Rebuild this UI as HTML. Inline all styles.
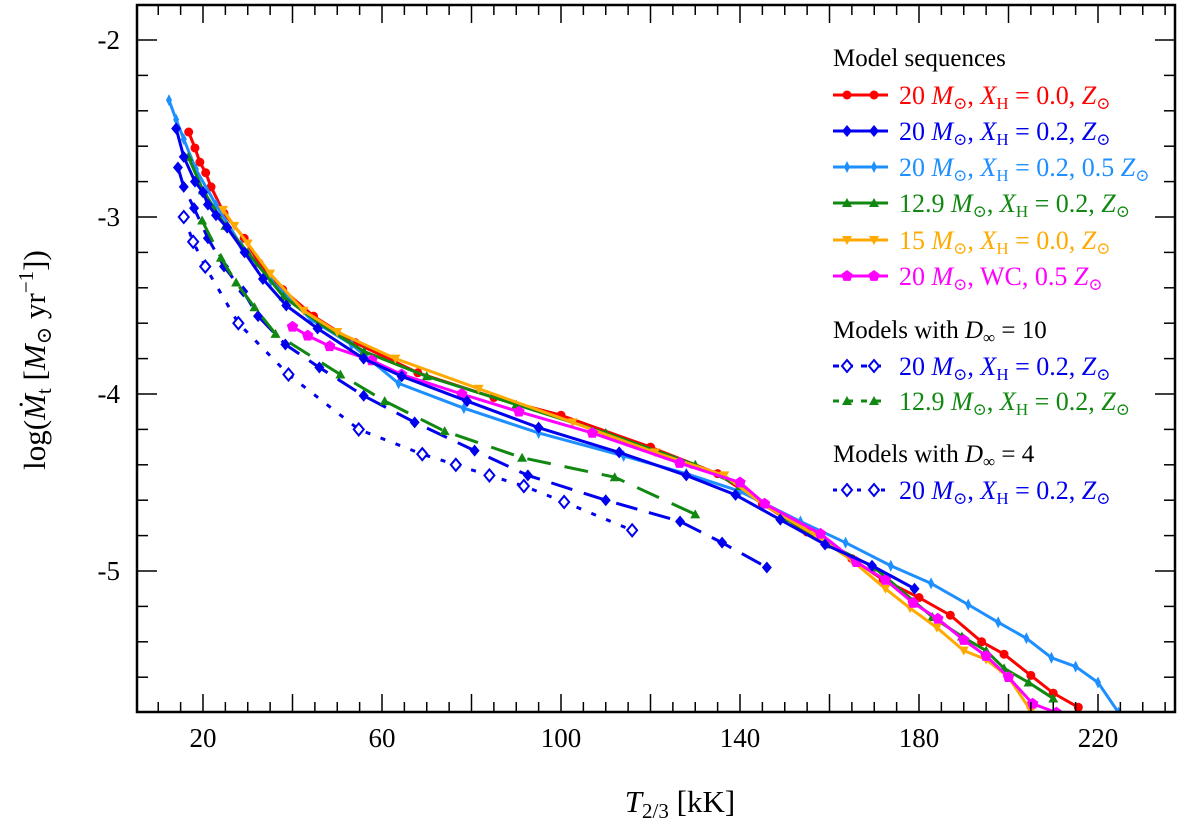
<!DOCTYPE html>
<html><head><meta charset="utf-8"><style>
html,body{margin:0;padding:0;background:#fff;}
svg{display:block;font-family:"Liberation Serif","DejaVu Serif",serif;}
</style></head><body>
<svg id="chart" width="1200" height="833" viewBox="0 0 1200 833" xmlns="http://www.w3.org/2000/svg">
<defs><clipPath id="clip"><rect x="137" y="5" width="1038" height="707"/></clipPath></defs>
<g id="series" clip-path="url(#clip)"></g>
<rect x="137" y="5" width="1038" height="707" fill="none" stroke="#000" stroke-width="2.5"/>
<g id="axes"></g>
<text x="680" y="812" font-size="31" text-anchor="middle"><tspan font-style="italic">T</tspan><tspan font-size="21" dy="6">2/3</tspan><tspan dy="-6"> [kK]</tspan></text>
<text transform="translate(45,360) rotate(-90)" font-size="31" text-anchor="middle">log(<tspan font-style="italic">Ṁ</tspan><tspan font-size="21" dy="6">t</tspan><tspan dy="-6"> [</tspan><tspan font-style="italic">M</tspan><tspan font-size="21" dy="6">⊙</tspan><tspan dy="-6"> yr</tspan><tspan font-size="21" dy="-12">−1</tspan><tspan dy="12">])</tspan></text>
<g id="legend"></g>
</svg>
<script>
const xTicks=[20,60,100,140,180,220];
const yTicks=[-2,-3,-4,-5];
const redT=[16.8,18.2,19.3,20.6,21.8,24.7,29.2,32.5,37.8,44.7,54,68,85,100,120,135,145,155,165,172,180,187,194,199,205,210,215.6];
const redM=[-2.52,-2.61,-2.69,-2.75,-2.83,-2.98,-3.12,-3.26,-3.41,-3.56,-3.71,-3.88,-4.02,-4.12,-4.3,-4.45,-4.62,-4.78,-4.93,-5.05,-5.15,-5.25,-5.40,-5.47,-5.59,-5.69,-5.77];
const blueT=[14,15.7,18.2,20,21.1,22.9,25.4,29.3,33.4,38.6,45.6,55.9,64.4,79,95,113,128,139,149,159,169.5,179];
const blueM=[-2.5,-2.66,-2.8,-2.86,-2.93,-2.99,-3.06,-3.2,-3.35,-3.5,-3.63,-3.8,-3.9,-4.04,-4.19,-4.33,-4.46,-4.57,-4.71,-4.85,-4.97,-5.1];
const lbT=[12.4,14,15.7,18.4,22.9,28.5,35.2,44.2,53.2,63.7,78.3,95,114,128,140,153.5,163.6,173.7,182.7,191,197.7,204,209.6,215,220,224.6];
const lbM=[-2.34,-2.45,-2.56,-2.73,-2.93,-3.16,-3.36,-3.58,-3.72,-3.94,-4.08,-4.22,-4.35,-4.45,-4.55,-4.72,-4.84,-4.97,-5.07,-5.19,-5.29,-5.38,-5.49,-5.54,-5.63,-5.8];
const grT=[16.7,20,25,30,38,46,56,70,90,110,130,140,150,160,170,183,189.6,195,199,204.5,210];
const grM=[-2.66,-2.85,-3.05,-3.2,-3.45,-3.6,-3.76,-3.9,-4.06,-4.22,-4.4,-4.52,-4.7,-4.85,-4.98,-5.26,-5.37,-5.45,-5.55,-5.63,-5.72];
const orT=[24.5,27,30,35,42.5,50,63,81.6,102.6,121,136.5,145,157,165,172.5,178,184,190,195,200,205];
const orM=[-2.96,-3.05,-3.15,-3.32,-3.53,-3.65,-3.8,-3.97,-4.16,-4.33,-4.46,-4.62,-4.8,-4.94,-5.1,-5.21,-5.32,-5.45,-5.5,-5.6,-5.79];
const mgT=[40,43.4,48.3,57.7,64.4,77.8,90.6,107,126.5,140,145.5,158,166,172.5,178.7,184.2,190,195,200,205.4,210.7];
const mgM=[-3.62,-3.67,-3.73,-3.81,-3.89,-4.0,-4.1,-4.22,-4.39,-4.5,-4.62,-4.79,-4.95,-5.05,-5.18,-5.27,-5.39,-5.48,-5.6,-5.75,-5.8];
const d10bT=[14.4,15.7,18,21.1,24.7,29,32.3,38.4,46,55.9,67.3,80.7,92.6,110,126.6,136,146];
const d10bM=[-2.72,-2.83,-2.95,-3.12,-3.28,-3.42,-3.56,-3.72,-3.85,-4.01,-4.16,-4.32,-4.46,-4.6,-4.72,-4.84,-4.98];
const d10gT=[19.8,24,27.4,31.5,36.2,50.7,60.6,74,91.3,112,130];
const d10gM=[-3.02,-3.23,-3.37,-3.51,-3.66,-3.89,-4.04,-4.21,-4.36,-4.47,-4.68];
const d4T=[15.7,17.8,20.5,27.9,39.1,54.8,69,76.5,84,91.7,100.7,115.9];
const d4M=[-3.0,-3.14,-3.28,-3.6,-3.89,-4.2,-4.34,-4.4,-4.46,-4.52,-4.61,-4.77];

const NS='http://www.w3.org/2000/svg';
const X=t=>203+(t-20)*4.475;
const Y=m=>40+(-2-m)*177;
function mk(tag,attrs,parent){const e=document.createElementNS(NS,tag);for(const k in attrs)e.setAttribute(k,attrs[k]);parent.appendChild(e);return e;}
const axes=document.getElementById('axes');
for(let t=10;t<=235;t+=5){const major=(t%20===0);const L=major?18:10;
 const a=mk('line',{x1:X(t),x2:X(t),y1:712,y2:712-L,stroke:'#000','stroke-width':1.5},axes);
 
 const b=mk('line',{x1:X(t),x2:X(t),y1:5,y2:5+L,stroke:'#000','stroke-width':1.5},axes);
 }
xTicks.forEach(t=>{const e=mk('text',{x:X(t),y:747,'font-size':27,'text-anchor':'middle'},axes);e.textContent=t;
 });
for(let i=0;i<=20;i++){const m=-1.8-i*0.2;const yy=Y(m);if(yy<5||yy>712)continue;const major=Math.abs(Math.round(m)-m)<1e-6;const L=major?20:11;
 const a=mk('line',{x1:137,x2:137+L,y1:yy,y2:yy,stroke:'#000','stroke-width':1.5},axes);
 
 const b=mk('line',{x1:1175,x2:1175-L,y1:yy,y2:yy,stroke:'#000','stroke-width':1.5},axes);
 }
yTicks.forEach(m=>{const e=mk('text',{x:120,y:Y(m)+9,'font-size':27,'text-anchor':'end'},axes);e.textContent=m;
 });

function marker(g,shape,x,y,c,open){let e;const f=open?'#fff':c;const sw=open?2:0;
 if(shape==='circle')e=mk('circle',{cx:x,cy:y,r:4.5,fill:f},g);
 else if(shape==='diamond')e=mk('polygon',{points:`${x},${y-6} ${x+5},${y} ${x},${y+6} ${x-5},${y}`,fill:f,stroke:c,'stroke-width':sw},g);
 else if(shape==='thin')e=mk('polygon',{points:`${x},${y-6} ${x+3},${y} ${x},${y+6} ${x-3},${y}`,fill:f},g);
 else if(shape==='tri')e=mk('polygon',{points:`${x},${y-5} ${x+5},${y+4} ${x-5},${y+4}`,fill:f},g);
 else if(shape==='tridown')e=mk('polygon',{points:`${x},${y+5} ${x+5},${y-4} ${x-5},${y-4}`,fill:f},g);
 else if(shape==='pent'){let p=[];for(let k=0;k<5;k++){const a=-Math.PI/2+k*2*Math.PI/5;p.push((x+6*Math.cos(a))+','+(y+6*Math.sin(a)));}e=mk('polygon',{points:p.join(' '),fill:f},g);}
 }
const SG=document.getElementById('series');
const series=[
 {n:'series-20m-xh0-zsun',T:redT,M:redM,c:'#ff0000',s:'circle',d:''},
 {n:'series-20m-xh02-05zsun',T:lbT,M:lbM,c:'#1e8fff',s:'thin',d:''},
 {n:'series-12-9m-xh02-zsun',T:grT,M:grM,c:'#118811',s:'tri',d:''},
 {n:'series-15m-xh0-zsun',T:orT,M:orM,c:'#ffaa00',s:'tridown',d:''},
 {n:'series-20m-wc-05zsun',T:mgT,M:mgM,c:'#ff00ff',s:'pent',d:''},
 {n:'series-20m-xh02-zsun',T:blueT,M:blueM,c:'#0000ee',s:'diamond',d:''},
 {n:'series-d10-20m',T:d10bT,M:d10bM,c:'#0000ee',s:'diamond',d:'22 12',open:false},
 {n:'series-d10-12-9m',T:d10gT,M:d10gM,c:'#118811',s:'tri',d:'24 14'},
 {n:'series-d4-20m',T:d4T,M:d4M,c:'#0000ee',s:'diamond',d:'5 11',open:true}
];
series.forEach(S=>{const g=mk('g',{},SG);
 const pts=S.T.map((t,i)=>X(t)+','+Y(S.M[i])).join(' ');
 const l=mk('polyline',{points:pts,fill:'none',stroke:S.c,'stroke-width':3,'stroke-dasharray':S.d||'none','stroke-linejoin':'round'},g);
 
 S.T.forEach((t,i)=>marker(g,S.s,X(t),Y(S.M[i]),S.c,S.open));});

const LG=document.getElementById('legend');
function head(y,html){const e=mk('text',{x:833,y:y,'font-size':25},LG);e.innerHTML=html;
 }
function entry(y,c,shape,dash,open,html){const g=mk('g',{},LG);
 mk('line',{x1:833,x2:888,y1:y,y2:y,stroke:c,'stroke-width':3,'stroke-dasharray':dash||'none'},g);
 marker(g,shape,847,y,c,open);marker(g,shape,874,y,c,open);
 const t=mk('text',{x:899,y:y+9,'font-size':26,fill:c},g);t.innerHTML=html;}
const Ms='<tspan font-style="italic">M</tspan><tspan font-size="17" dy="5">⊙</tspan><tspan dy="-5">, </tspan>';
const XH='<tspan font-style="italic">X</tspan><tspan font-size="17" dy="5">H</tspan><tspan dy="-5"> = </tspan>';
const Zs='<tspan font-style="italic">Z</tspan><tspan font-size="17" dy="5">⊙</tspan>';
head(66,'Model sequences');
entry(95,'#ff0000','circle','',false,'20 '+Ms+XH+'0.0, '+Zs);
entry(131,'#0000ee','diamond','',false,'20 '+Ms+XH+'0.2, '+Zs);
entry(167,'#1e8fff','thin','',false,'20 '+Ms+XH+'0.2, 0.5 '+Zs);
entry(203,'#118811','tri','',false,'12.9 '+Ms+XH+'0.2, '+Zs);
entry(240,'#ffaa00','tridown','',false,'15 '+Ms+XH+'0.0, '+Zs);
entry(276,'#ff00ff','pent','',false,'20 '+Ms+'WC, 0.5 '+Zs);
head(338,'Models with <tspan font-style="italic">D</tspan><tspan font-size="17" dy="5">∞</tspan><tspan dy="-5"> = 10</tspan>');
entry(366,'#0000ee','diamond','6 8',true,'20 '+Ms+XH+'0.2, '+Zs);
entry(401,'#118811','tri','6 8',false,'12.9 '+Ms+XH+'0.2, '+Zs);
head(462,'Models with <tspan font-style="italic">D</tspan><tspan font-size="17" dy="5">∞</tspan><tspan dy="-5"> = 4</tspan>');
entry(490,'#0000ee','diamond','4 8',true,'20 '+Ms+XH+'0.2, '+Zs);
</script>
</body></html>
